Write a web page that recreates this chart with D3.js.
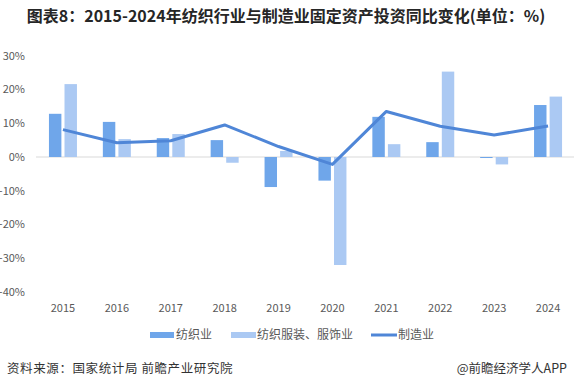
<!DOCTYPE html>
<html>
<head>
<meta charset="utf-8">
<script src="https://cdn.jsdelivr.net/npm/d3@7"></script>
<style>
  body { margin: 0; background: #fff; }
  svg { display: block; font-family: "Microsoft YaHei", "Noto Sans CJK SC", sans-serif; }
</style>
</head>
<body>
<div id="chart"></div>
<script>
'use strict';
// 2015-2024 textile vs manufacturing fixed asset investment growth

var years = ["2015", "2016", "2017", "2018", "2019", "2020", "2021", "2022", "2023", "2024"];
var textile = [12.8, 10.4, 5.6, 5.0, -8.9, -7.0, 11.9, 4.4, -0.3, 15.4];
var apparel = [21.6, 5.3, 6.8, -1.7, 1.8, -32.0, 3.8, 25.3, -2.2, 17.9];
var manufacturing = [8.1, 4.2, 4.8, 9.5, 3.1, -2.2, 13.5, 9.1, 6.5, 9.2];
var yTicks = [30, 20, 10, 0, -10, -20, -30, -40];
var seriesNames = ["纺织业", "纺织服装、服饰业", "制造业"];

var width = 574, height = 392;
var colors = { textile: "#6fa6ea", apparel: "#abc9f3", line: "#4f86d7" };

var svg = d3.select("#chart").append("svg")
    .attr("width", width)
    .attr("height", height);

// title
svg.append("text")
    .attr("x", 286)
    .attr("y", 22)
    .attr("text-anchor", "middle")
    .style("font-size", "16px")
    .style("font-weight", "bold")
    .attr("fill", "#262626")
    .text("图表8：2015-2024年纺织行业与制造业固定资产投资同比变化(单位：%)");

var x0 = d3.scaleBand().domain(years).range([36, 575]);
var x1 = d3.scaleBand().domain(["textile", "apparel"]).range([-14, 14]).paddingInner(0.2);
var y = d3.scaleLinear().domain([-40, 30]).range([292, 55.75]);

// y tick labels
svg.append("g").selectAll("text")
    .data(yTicks)
    .enter().append("text")
        .attr("x", 25)
        .attr("y", function(d) { return y(d); })
        .attr("dy", "0.35em")
        .attr("text-anchor", "end")
        .style("font-size", "11px")
        .attr("fill", "#595959")
        .text(function(d) { return d + "%"; });

// zero line
svg.append("line")
    .attr("x1", 36).attr("x2", 574)
    .attr("y1", y(0)).attr("y2", y(0))
    .attr("stroke", "#d9d9d9")
    .attr("stroke-width", 1);

// bars
var rows = years.map(function(yr, i) {
    return { year: yr, textile: textile[i], apparel: apparel[i] };
});

var groups = svg.append("g").selectAll("g")
    .data(rows)
    .enter().append("g")
        .attr("transform", function(d) { return "translate(" + (x0(d.year) + x0.bandwidth() / 2) + ",0)"; });

groups.selectAll("rect")
    .data(function(d) {
        return ["textile", "apparel"].map(function(k) { return { key: k, value: d[k] }; });
    })
    .enter().append("rect")
        .attr("x", function(d) { return x1(d.key); })
        .attr("width", x1.bandwidth())
        .attr("y", function(d) { return Math.min(y(d.value), y(0)); })
        .attr("height", function(d) { return Math.abs(y(d.value) - y(0)); })
        .attr("fill", function(d) { return colors[d.key]; });

// manufacturing line
var line = d3.line()
    .x(function(d, i) { return x0(years[i]) + x0.bandwidth() / 2; })
    .y(function(d) { return y(d); });

svg.append("path")
    .datum(manufacturing)
    .attr("d", line)
    .attr("fill", "none")
    .attr("stroke", colors.line)
    .attr("stroke-width", 3)
    .attr("stroke-linejoin", "round");

// x labels
svg.append("g").selectAll("text")
    .data(years)
    .enter().append("text")
        .attr("x", function(d) { return x0(d) + x0.bandwidth() / 2; })
        .attr("y", 308)
        .attr("dy", "0.35em")
        .attr("text-anchor", "middle")
        .style("font-size", "11px")
        .attr("fill", "#595959")
        .text(function(d) { return d; });

// legend
var legend = svg.append("g");
legend.append("rect").attr("x", 150).attr("y", 332).attr("width", 24).attr("height", 6).attr("fill", colors.textile);
legend.append("text").attr("x", 176).attr("y", 335).attr("dy", "0.35em")
    .style("font-size", "12px").attr("fill", "#595959").text(seriesNames[0]);
legend.append("rect").attr("x", 231).attr("y", 332).attr("width", 25).attr("height", 6).attr("fill", colors.apparel);
legend.append("text").attr("x", 257).attr("y", 335).attr("dy", "0.35em")
    .style("font-size", "12px").attr("fill", "#595959").text(seriesNames[1]);
legend.append("line").attr("x1", 371).attr("x2", 397).attr("y1", 335).attr("y2", 335)
    .attr("stroke", colors.line).attr("stroke-width", 3);
legend.append("text").attr("x", 398).attr("y", 335).attr("dy", "0.35em")
    .style("font-size", "12px").attr("fill", "#595959").text(seriesNames[2]);

// footer
svg.append("text")
    .attr("x", 7).attr("y", 369).attr("dy", "0.35em")
    .style("font-size", "12.5px").style("letter-spacing", "0.6px").attr("fill", "#333")
    .text("资料来源：国家统计局 前瞻产业研究院");
svg.append("text")
    .attr("x", 567).attr("y", 369).attr("dy", "0.35em")
    .attr("text-anchor", "end")
    .style("font-size", "12.5px").attr("fill", "#333")
    .text("@前瞻经济学人APP");
</script>
</body>
</html>
